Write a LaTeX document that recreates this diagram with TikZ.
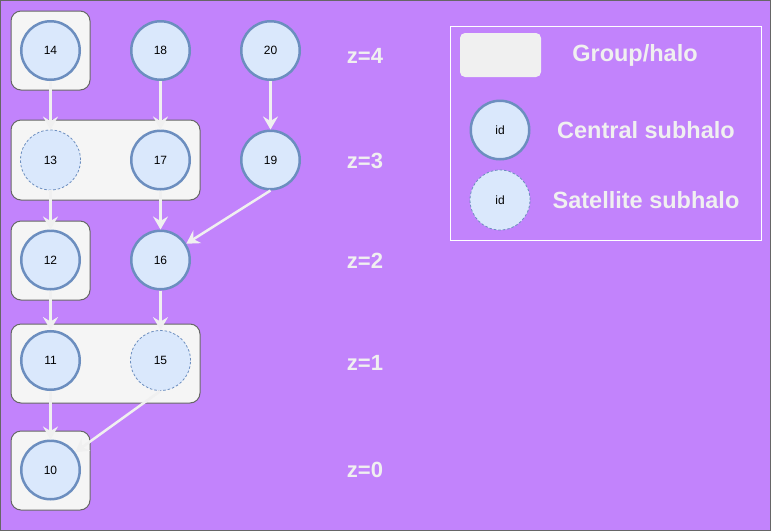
\documentclass[tikz,border=0pt]{standalone}
\usepackage{fontspec}
\setmainfont{Liberation Sans}
\usetikzlibrary{arrows.meta}
\definecolor{bgp}{HTML}{C283FC}
\definecolor{bgframe}{HTML}{666666}
\definecolor{cfill}{HTML}{DAE8FC}
\definecolor{cstroke}{HTML}{6C8EBF}
\definecolor{hfill}{HTML}{F5F5F5}
\definecolor{hstroke}{HTML}{666666}
\definecolor{arrowc}{HTML}{F0F0F0}
\definecolor{lbl}{HTML}{F0F0F0}
\begin{document}
\begin{tikzpicture}[x=1pt,y=-1pt,
  central/.style={circle,draw=cstroke,fill=cfill,line width=2.5pt,minimum size=58.5pt,inner sep=0pt,font=\fontsize{12}{14}\selectfont},
  satellite/.style={circle,draw=cstroke,fill=cfill,line width=0.8pt,dash pattern=on 2.5pt off 2pt,minimum size=60pt,inner sep=0pt,font=\fontsize{12}{14}\selectfont},
  halo/.style={draw=hstroke,fill=hfill,rounded corners=10pt,line width=1pt,inner sep=0pt},
  flow/.style={draw=arrowc,line width=2.5pt,-{Stealth[length=13pt,width=15pt,inset=4.5pt]}},
  zlabel/.style={text=lbl,font=\bfseries\fontsize{22}{26}\selectfont},
  leglabel/.style={text=lbl,font=\bfseries\fontsize{23.5}{27}\selectfont}]
\useasboundingbox (0,0) rectangle (771,531);
\fill[bgp] (0,0) rectangle (771,531);
\draw[bgframe,line width=1pt] (0.5,0.5) rectangle (770.5,530.5);

% halos
\node[halo,minimum width=79pt,minimum height=79pt] (h4) at (50.5,50.5) {};
\node[halo,minimum width=189pt,minimum height=80pt] (h3) at (105.5,160) {};
\node[halo,minimum width=79pt,minimum height=79pt] (h2) at (50.5,260.5) {};
\node[halo,minimum width=189pt,minimum height=79pt] (h1) at (105.5,363.5) {};
\node[halo,minimum width=79pt,minimum height=79pt] (h0) at (50.5,470.5) {};

% subhalos
\node[central] (n14) at (50.5,50.5) {14};
\node[central] (n18) at (160.5,50.5) {18};
\node[central] (n20) at (270.5,50.5) {20};
\node[satellite] (n13) at (50.5,160) {13};
\node[central] (n17) at (160.5,160) {17};
\node[central] (n19) at (270.5,160) {19};
\node[central] (n12) at (50.5,260) {12};
\node[central] (n16) at (160.5,260) {16};
\node[central] (n11) at (50.5,360.5) {11};
\node[satellite] (n15) at (160.5,360.5) {15};
\node[central] (n10) at (50.5,470) {10};

% connectors
\draw[flow] (n14) -- (n13);
\draw[flow] (n18) -- (n17);
\draw[flow] (n20) -- (n19);
\draw[flow] (n13) -- (n12);
\draw[flow] (n17) -- (n16);
\draw[flow] (n19.south) -- (n16);
\draw[flow] (n12) -- (n11);
\draw[flow] (n16) -- (n15);
\draw[flow] (n11) -- (n10);
\draw[flow] (n15.south) -- (n10);

% redshift labels
\node[zlabel] (z4) at (365,56) {z=4};
\node[zlabel] (z3) at (365,161) {z=3};
\node[zlabel] (z2) at (365,261) {z=2};
\node[zlabel] (z1) at (365,363) {z=1};
\node[zlabel] (z0) at (365,470) {z=0};

% legend
\node[draw=white,line width=1pt,minimum width=311pt,minimum height=214pt,inner sep=0pt] (legend) at (605.5,133) {};
\node[fill=arrowc,rounded corners=5pt,minimum width=81pt,minimum height=44pt,inner sep=0pt] (lgroup) at (500.5,55) {};
\node[central] (lcentral) at (500,130) {id};
\node[satellite] (lsat) at (500,200) {id};
\node[leglabel] (tgroup) at (635,55) {Group/halo};
\node[leglabel] (tcentral) at (646,130) {Central subhalo};
\node[leglabel] (tsat) at (646,200) {Satellite subhalo};
\end{tikzpicture}
\end{document}
